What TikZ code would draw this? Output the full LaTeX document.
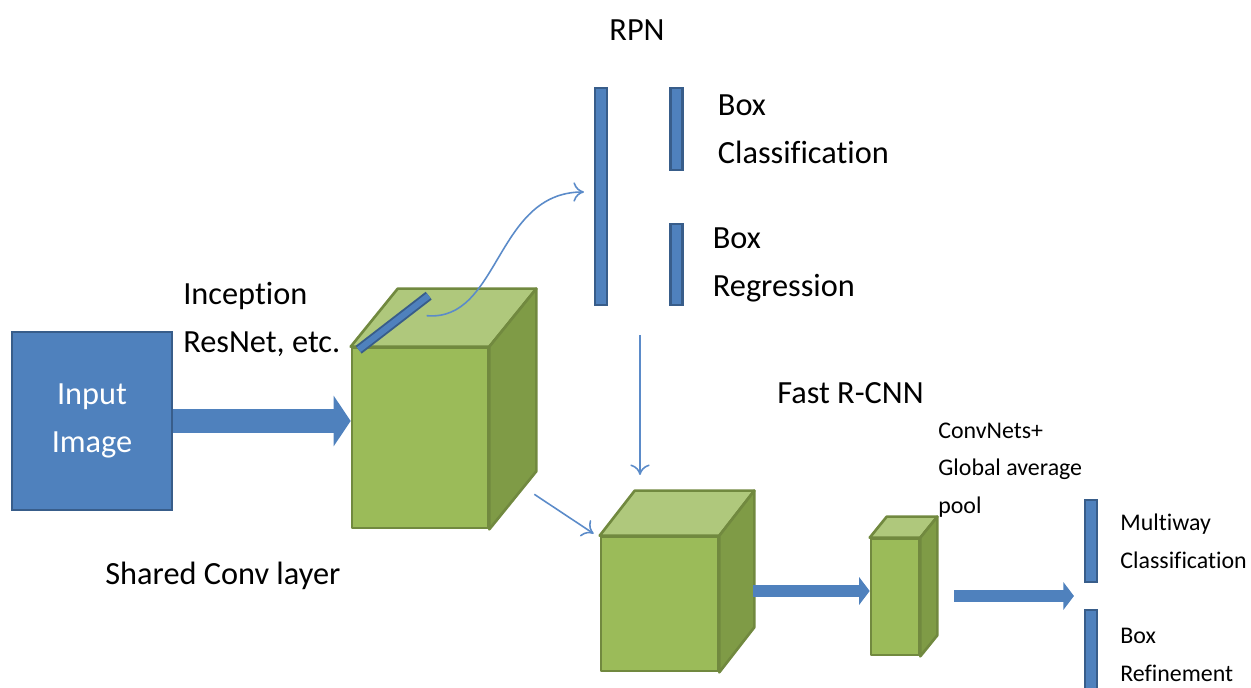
\documentclass[tikz,border=0pt]{standalone}
\usepackage{fontspec}
\setmainfont{Carlito}[Ligatures=NoCommon]
\usetikzlibrary{arrows.meta,calc,positioning}

\definecolor{boxblue}{HTML}{4F81BD}
\definecolor{boxedge}{HTML}{385D8A}
\definecolor{cubefront}{HTML}{9BBB59}
\definecolor{cubetop}{HTML}{AFC87C}
\definecolor{cubeside}{HTML}{7F9B46}
\definecolor{cubeedge}{HTML}{71893F}
\definecolor{linkblue}{HTML}{5B8BC9}

\newdimen\pxu \pxu=0.02cm

\tikzset{
  layer/.style={draw=cubeedge, fill=cubefront, line width=1.5pt, line join=round, inner sep=0pt},
  bar/.style={draw=boxedge, fill=boxblue, line width=1.2pt, inner sep=0pt, minimum width=12\pxu},
  bigarrow/.style={draw=boxblue, line width=13.6pt, -{Triangle[length=9.7pt,width=28.4pt]}},
  midarrow/.style={draw=boxblue, line width=6.8pt, -{Triangle[length=6pt,width=15.5pt]}},
  link/.style={draw=linkblue, line width=0.9pt, -{To[length=6pt,width=11pt]}},
  lbl/.style={align=left, inner sep=0pt, font=\fontsize{18.4}{27.3}\selectfont},
  small/.style={align=left, inner sep=0pt, font=\fontsize{13.6}{21.5}\selectfont},
}

% front face is a node, top and right faces hang on its corners
% #1 name, #2 #3 centre, #4 width, #5 height, #6 depth offset
\newcommand{\layerbox}[6]{%
  \node[layer, minimum width=#4\pxu, minimum height=#5\pxu] (#1) at (#2,#3) {};
  \filldraw[layer, fill=cubetop] (#1.north west) -- ++(#6) -- ($(#1.north east)+(#6)$) -- (#1.north east) -- cycle;
  \filldraw[layer, fill=cubeside] (#1.north east) -- ++(#6) -- ($(#1.south east)+(#6)$) -- (#1.south east) -- cycle;
}

\begin{document}
\begin{tikzpicture}[x=0.02cm, y=-0.02cm]
  \useasboundingbox (0,0) rectangle (1251,688);

  % input
  \node[bar, minimum width=160\pxu, minimum height=178\pxu, text=white, align=center,
        font=\fontsize{18.4}{27.3}\selectfont] (input) at (92,421) {Input\\Image};
  \node[lbl, anchor=west] (backbone) at (183,319) {Inception\\ResNet, etc.};

  % shared conv layer
  \layerbox{cube1}{420}{438}{136}{180}{47,-58}
  \draw[boxedge, line width=5.6pt] ($(cube1.north west)+(8,3)$) -- ($(cube1.north west)+(78,-51)$);
  \draw[boxblue, line width=3.4pt] ($(cube1.north west)+(8,3)$) -- ($(cube1.north west)+(78,-51)$);
  \node[lbl, anchor=west] (shared) at (105,576) {Shared Conv layer};

  \draw[bigarrow] (input.east) -- (input.east -| cube1.west);

  % RPN
  \node[bar, minimum height=217\pxu] (rpn) at (601,196.5) {};
  \node[bar, minimum height=82\pxu] (cls) at (676.5,129) {};
  \node[bar, minimum height=81\pxu] (reg) at (676.5,264.5) {};
  \node[lbl] (rpnlbl) at (637,30) {RPN};
  \node[lbl, right=34\pxu of cls] (clslbl) {Box\\Classification};
  \node[lbl, right=29\pxu of reg] (reglbl) {Box\\Regression};

  \coordinate (anchorpt) at ($(cube1.north west)+(76,-31)$);
  \draw[link] (anchorpt) .. controls (500,322) and (495,192) .. ($(rpn.west)+(-10,-4.5)$);

  % Fast R-CNN
  \layerbox{cube2}{659.5}{604}{117}{134}{35,-45}
  \layerbox{cube3}{895}{597}{48}{116}{17,-21}
  \node[lbl, anchor=west] (fastlbl) at (777,393) {Fast R-CNN};
  \node[small, anchor=west] (poollbl) at (938,470) {ConvNets+\\Global average\\pool};

  \coordinate (rpnout) at (640,335);
  \coordinate (roiin) at (640,475);
  \draw[link] (rpnout) -- (roiin);
  \draw[link] ($(cube1.south east)+(45,-35)$) -- ($(cube2.north west)+(-6,-2)$);

  \coordinate (cube2out) at ($(cube2.east)+(34,-13)$);
  \draw[midarrow] (cube2out) -- (cube2out -| cube3.west);

  % heads
  \node[bar, minimum height=82\pxu] (mcls) at (1091,541) {};
  \node[bar, minimum height=92\pxu] (bref) at (1091,656) {};
  \node[small, right=22\pxu of mcls] (mclslbl) {Multiway\\Classification};
  \node[small, right=22\pxu of bref, yshift=1\pxu] (breflbl) {Box\\Refinement};

  \coordinate (poolout) at ($(cube3.east)+(34,-1)$);
  \draw[midarrow] (poolout) -- ($(mcls.west |- poolout)+(-10,0)$);
\end{tikzpicture}
\end{document}
